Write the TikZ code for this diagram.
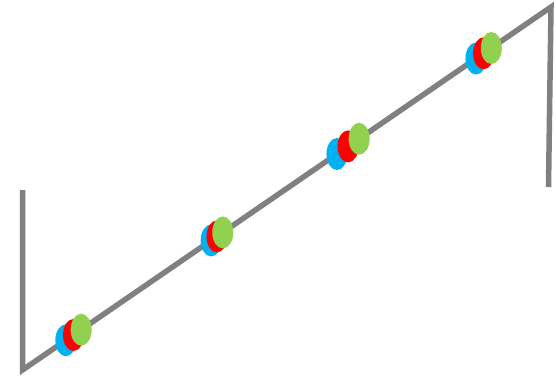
\documentclass[tikz,border=0pt]{standalone}
\usetikzlibrary{positioning,calc,shapes.geometric}
\definecolor{wiregray}{RGB}{128,128,128}
\definecolor{beadblue}{RGB}{0,176,240}
\definecolor{beadred}{RGB}{255,0,0}
\definecolor{beadgreen}{RGB}{146,208,80}
\tikzset{
  wire/.style={draw=wiregray, line width=5.5pt, line join=miter},
  bead/.style={ellipse, inner sep=0pt, minimum width=21pt, minimum height=32pt},
}

\begin{document}
\begin{tikzpicture}[x=1pt, y=-1pt]
  \useasboundingbox (0,0) rectangle (556,378);
  \coordinate (lt) at (22.5,190);
  \coordinate (lb) at (22.5,370);
  \coordinate (rt) at (551,7);
  \coordinate (rb) at (548.5,187);
  \draw[wire] (lt) -- (lb) -- (rt) -- (rb);
  % beads on the wire
  \foreach \tb/\tg [count=\i] in {0.082/0.111,0.357/0.379,0.595/0.637,0.858/0.887} {
    \node[bead, fill=beadblue] (blue\i) at ($(lb)!\tb!(rt)$) {};
    \node[bead, fill=beadred] (red\i) at ($(lb)!0.5*\tb+0.5*\tg!(rt)$) {};
    \node[bead, fill=beadgreen] (green\i) at ($(lb)!\tg!(rt)$) {};
  }
\end{tikzpicture}
\end{document}
